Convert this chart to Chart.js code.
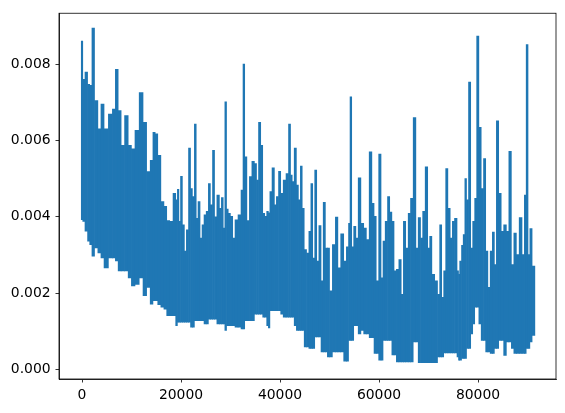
<!DOCTYPE html>
<html><head><meta charset="utf-8">
<script src="https://cdn.jsdelivr.net/npm/chart.js@4"></script>
<style>html,body{margin:0;padding:0;background:#fff}</style>
</head><body>
<canvas id="c" width="565" height="413"></canvas>
<script>
// x positions (training step) of the envelope samples
const steps = [
0,300,900,1350,1760,2250,2800,3600,4050,4850,5800,6470,7000,7600,8200,9000,9650,10300,11100,12000,12650,13450,14100,14550,15000,15600,16250,
16840,17380,18050,18725,19130,19400,19735,20070,20475,20880,21280,21755,22090,22495,22900,23235,23640,24045,24450,24850,25325,25725,26130,26600,26940,27545,27950,28355,28690,29025,29365,29700,30240,30640,31180,31855,32390,32660,33065,33540,34080,34550,35085,35420,35895,36300,
36705,37110,37510,37780,38120,38655,39060,39465,39935,40340,40945,41485,41955,42290,42630,43100,43505,43910,44310,44650,45120,45590,46065,46400,46805,47210,47610,48085,48485,48960,49360,49765,50235,50910,51450,51920,52595,53130,53670,54010,54280,54680,55085,55555,56030,
56635,57170,57710,58315,58790,59195,59665,60200,60605,61010,61480,61955,62355,62830,63230,63770,64240,64715,65120,65655,66130,66600,67205,67675,68150,68620,69020,69630,70030,70435,70905,71580,72050,72455,72860,73265,73670,74140,74610,75015,75485,76025,
76090,76500,76835,77170,77505,77845,78315,78720,79125,79525,79930,80400,80875,81345,81750,82220,82690,83095,83500,83905,84440,84915,85450,85990,86460,87000,87470,88010,88615,89155,89560,89895,90300,90640,91200
];
// upper envelope of the loss curve
const upper = [
0.0086,0.0076,0.00779,0.00747,0.00744,0.00894,0.00704,0.0063,0.00695,0.0063,0.00669,0.00682,0.00786,0.00678,0.00587,0.00665,0.00587,0.00578,0.00626,0.00725,0.00647,0.00518,0.00548,0.00621,0.00617,0.00561,0.0044,
0.00427,0.0039,0.00388,0.00461,0.00444,0.00472,0.00388,0.00506,0.00379,0.0031,0.00366,0.0058,0.00474,0.00453,0.00643,0.00396,0.0044,0.00344,0.00379,0.00405,0.00414,0.00487,0.00431,0.00574,0.004,0.00457,0.00422,0.0045,0.0037,0.00701,0.0042,0.00409,0.00401,0.00344,0.00392,0.00405,0.0047,0.008,0.00557,0.0039,0.00505,0.00545,0.00539,0.00496,0.00647,0.00587,
0.00409,0.00401,0.00414,0.0041,0.00466,0.00528,0.00431,0.00453,0.00519,0.00461,0.00496,0.00513,0.00643,0.00509,0.00492,0.0058,0.00483,0.00444,0.00533,0.00422,0.00314,0.00305,0.00362,0.00487,0.00292,0.00522,0.00284,0.00377,0.00232,0.00438,0.00318,0.00318,0.00206,0.00327,0.00399,0.00266,0.00355,0.00284,0.00321,0.00383,0.00714,0.00321,0.00375,0.00344,0.00502,
0.00383,0.0037,0.0034,0.0057,0.00435,0.00401,0.00232,0.00564,0.0024,0.00336,0.00388,0.00453,0.00412,0.00388,0.00258,0.00262,0.00288,0.00197,0.00388,0.00318,0.00409,0.00448,0.0066,0.00318,0.00398,0.00344,0.00414,0.00531,0.00318,0.00349,0.00249,0.00232,0.00197,0.00379,0.00189,0.00258,0.00526,0.00422,0.00344,0.00388,0.00396,0.00258,
0.00249,0.00284,0.00325,0.00353,0.005,0.00444,0.00753,0.00318,0.00388,0.00448,0.00873,0.00634,0.00474,0.00552,0.0031,0.00215,0.0031,0.0036,0.00275,0.00651,0.00461,0.00362,0.00379,0.00362,0.00571,0.00275,0.00357,0.00301,0.00398,0.00301,0.00457,0.00851,0.00301,0.00369,0.00271
];
// lower envelope of the loss curve
const lower = [
0.00392,0.00388,0.00362,0.00336,0.00327,0.00297,0.00318,0.00305,0.00292,0.00266,0.00292,0.00292,0.00284,0.00258,0.00258,0.00258,0.0024,0.00219,0.00223,0.0024,0.00193,0.00215,0.00171,0.0018,0.0018,0.0017,0.00163,
0.00158,0.00141,0.00141,0.00141,0.00115,0.00124,0.00124,0.00124,0.00124,0.00124,0.00124,0.00124,0.00111,0.00111,0.00128,0.00128,0.00128,0.00128,0.00128,0.00119,0.00119,0.00132,0.00132,0.00132,0.00132,0.00119,0.00119,0.00119,0.00119,0.00102,0.00115,0.00115,0.00115,0.00115,0.00111,0.00111,0.00106,0.00106,0.00128,0.00128,0.00128,0.00128,0.00145,0.00145,0.00145,0.00145,
0.00137,0.00137,0.00115,0.00109,0.00154,0.00154,0.00154,0.00154,0.00154,0.00145,0.00137,0.00137,0.00137,0.00137,0.00137,0.00115,0.00102,0.00102,0.00102,0.00102,0.00059,0.00059,0.00055,0.00055,0.00055,0.00085,0.00085,0.00085,0.00046,0.00046,0.00046,0.00033,0.00033,0.00046,0.00046,0.00046,0.00046,0.00022,0.00022,0.00076,0.00076,0.00076,0.00115,0.00115,0.00093,
0.00102,0.00093,0.00093,0.00083,0.00083,0.00042,0.00042,0.00024,0.00024,0.00076,0.00076,0.00076,0.00076,0.00038,0.00038,0.0002,0.0002,0.0002,0.0002,0.0002,0.0002,0.0002,0.00072,0.00072,0.00018,0.00018,0.00018,0.00018,0.00018,0.00018,0.00018,0.00018,0.00033,0.00033,0.00033,0.00043,0.00043,0.00043,0.00043,0.00043,0.00043,0.00033,
0.00024,0.00024,0.00029,0.00029,0.00029,0.00055,0.00055,0.00093,0.00119,0.00163,0.00163,0.00119,0.00076,0.00076,0.00046,0.00046,0.00042,0.00042,0.00055,0.00055,0.00076,0.00076,0.00037,0.00072,0.00072,0.00055,0.00042,0.00042,0.00042,0.00042,0.00042,0.00055,0.00055,0.00072,0.00089
];
const xTicks = [0,20000,40000,60000,80000];
const yTicks = [0.000,0.002,0.004,0.006,0.008];

const BLUE = '#1f77b4';
const FONT = {family: 'DejaVu Sans', size: 13.9};
const gridCommon = {display: true, drawOnChartArea: false, drawTicks: true, tickLength: 3.5,
                    color: '#000', lineWidth: 0.8, offset: false};
const borderCommon = {display: true, color: '#000', width: 0.8};

new Chart(document.getElementById('c'), {
  type: 'bar',
  data: {
    datasets: [{
      // each sample is drawn as the vertical range [lower, upper] the dense curve covers
      data: steps.map((x, i) => ({x, y: [lower[i], upper[i]]})),
      backgroundColor: BLUE, borderWidth: 0,
      barThickness: 'flex', barPercentage: 1.0, categoryPercentage: 1.0
    }]
  },
  options: {
    responsive: false, animation: false, devicePixelRatio: 1,
    layout: {padding: {top: 10, right: 9, left: 0, bottom: 0}},
    plugins: {legend: {display: false}, tooltip: {enabled: false}},
    scales: {
      x: {
        type: 'linear', min: -4650, max: 95750, offset: false,
        afterBuildTicks: s => { s.ticks = xTicks.map(v => ({value: v})); },
        afterFit: s => { s.height = 34; },
        grid: gridCommon, border: borderCommon,
        ticks: {color: '#000', font: FONT, padding: 4.9, maxRotation: 0, autoSkip: false,
                callback: v => String(v)}
      },
      y: {
        type: 'linear', min: -0.00025, max: 0.00933,
        afterBuildTicks: s => { s.ticks = yTicks.map(v => ({value: v})); },
        afterFit: s => { s.width = 59; },
        grid: gridCommon, border: borderCommon,
        ticks: {color: '#000', font: FONT, padding: 4.9, autoSkip: false,
                callback: v => Number(v).toFixed(3)}
      }
    }
  },
  plugins: [{
    id: 'frame',
    afterDraw(chart) {
      const {ctx, chartArea: a} = chart;
      ctx.save();
      ctx.strokeStyle = '#000';
      ctx.lineWidth = 0.8;
      ctx.strokeRect(a.left, a.top, a.right - a.left, a.bottom - a.top);
      ctx.restore();
    }
  }]
});
</script>
</body></html>
